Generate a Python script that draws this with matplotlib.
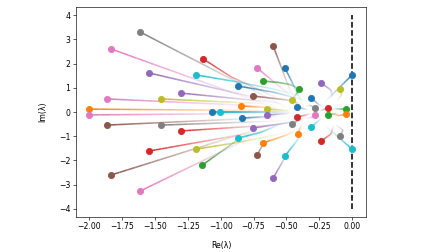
import numpy as np
import matplotlib
matplotlib.use("Agg")
import matplotlib.pyplot as plt
from matplotlib.collections import LineCollection
from matplotlib.colors import to_rgba

# eigenvalue paths: first point = start, last point = end (dot)
upper_paths = [
    [(-0.45, 0.05), (-1.612, 3.30)],
    [(-0.55, 0.10), (-1.833, 2.60)],
    [(-0.50, 0.40), (-0.92, 1.45), (-1.133, 2.19)],
    [(-0.50, 0.30), (-1.544, 1.61)],
    [(-0.35, 0.60), (-0.60, 0.95), (-0.85, 1.22), (-1.186, 1.53)],
    [(-0.33, 0.45), (-0.60, 0.82), (-0.867, 1.07)],
    [(-0.50, 0.35), (-1.30, 0.78)],
    [(-0.50, 0.30), (-1.452, 0.54)],
    [(-0.50, 0.20), (-1.863, 0.54)],
    [(-0.40, 0.05), (-2.00, 0.12)],
    [(-0.42, 0.00), (-1.065, 0.00)],
    [(-0.45, 0.00), (-1.004, 0.00)],
    [(-0.42, 0.50), (-0.47, 0.85), (-0.60, 2.72)],
    [(-0.45, 0.60), (-0.722, 1.81)],
    [(-0.37, 0.30), (-0.40, 0.60), (-0.51, 1.81)],
    [(-0.42, 0.65), (-0.41, 0.98), (-0.47, 1.13), (-0.56, 1.22), (-0.677, 1.28)],
    [(-0.46, 0.50), (-0.43, 0.70), (-0.403, 0.95)],
    [(-0.35, 0.30), (-0.50, 0.50), (-0.753, 0.66)],
    [(-0.38, 0.20), (-0.456, 0.49)],
    [(-0.22, 0.15), (-0.312, 0.58)],
    [(-0.15, 0.55), (-0.16, 0.90), (-0.236, 1.20)],
    [(-0.12, 0.45), (-0.08, 0.70), (-0.091, 0.95)],
    [(-0.22, 0.35), (0.00, 1.53)],
    [(-0.55, 0.15), (-0.844, 0.25)],
    [(-0.45, 0.05), (-0.646, 0.12)],
    [(-0.33, 0.08), (-0.418, 0.21)],
    [(-0.36, 0.22), (-0.32, 0.28), (-0.281, 0.16)],
    [(-0.25, 0.05), (-0.183, 0.16)],
    [(-0.17, 0.12), (-0.046, 0.12)],
]
upper_colors = ['C7', 'C6', 'C3', 'C4', 'C9', 'C0', 'C4', 'C8', 'C6', 'C1',
                'C0', 'C9', 'C5', 'C6', 'C0', 'C2', 'C2', 'C5', 'C8', 'C0',
                'C4', 'C8', 'C0', 'C1', 'C8', 'C0', 'C7', 'C3', 'C2']

lower_paths = [
    [(-0.40, -0.05), (-2.00, -0.12)],
    [(-0.50, -0.20), (-1.863, -0.54)],
    [(-0.45, -0.35), (-1.452, -0.54)],
    [(-0.50, -0.50), (-1.30, -0.78)],
    [(-0.60, -0.70), (-1.544, -1.61)],
    [(-0.45, -0.80), (-0.85, -1.24), (-1.186, -1.53)],
    [(-0.55, -0.60), (-0.85, -1.07), (-1.14, -2.19)],
    [(-0.60, -0.50), (-1.833, -2.60)],
    [(-0.60, -0.60), (-1.612, -3.26)],
    [(-0.40, -0.35), (-0.55, -0.50), (-0.70, -0.85), (-0.867, -1.07)],
    [(-0.55, -0.15), (-0.837, -0.25)],
    [(-0.45, -0.05), (-0.646, -0.12)],
    [(-0.30, -0.05), (-0.418, -0.21)],
    [(-0.36, -0.20), (-0.32, -0.25), (-0.281, -0.12)],
    [(-0.10, -0.05), (-0.183, -0.12)],
    [(-0.20, 0.00), (-0.10, -0.15), (-0.046, -0.08)],
    [(-0.36, -0.20), (-0.456, -0.49)],
    [(-0.35, -0.30), (-0.50, -0.45), (-0.753, -0.66)],
    [(-0.22, -0.20), (-0.312, -0.62)],
    [(-0.38, -0.45), (-0.40, -0.70), (-0.41, -0.91)],
    [(-0.40, -0.70), (-0.50, -0.95), (-0.677, -1.28)],
    [(-0.14, -0.50), (-0.16, -0.90), (-0.236, -1.20)],
    [(-0.13, -0.50), (-0.07, -0.75), (-0.091, -0.99)],
    [(-0.22, -0.50), (0.00, -1.53)],
    [(-0.60, -1.00), (-0.68, -1.35), (-0.722, -1.77)],
    [(-0.35, -0.70), (-0.51, -1.81)],
    [(-0.45, -1.30), (-0.60, -2.72)],
]
lower_colors = ['C6', 'C5', 'C7', 'C3', 'C3', 'C8', 'C2', 'C5', 'C6', 'C9',
                'C0', 'C4', 'C3', 'C6', 'C2', 'C1', 'C7', 'C4', 'C9', 'C1',
                'C1', 'C3', 'C7', 'C9', 'C5', 'C9', 'C4']


def draw_path(ax, pts, color, nsub=20):
    # straight pieces between read points, alpha ramps up toward the dot
    pts = np.asarray(pts, dtype=float)
    seg_len = np.hypot(*np.diff(pts, axis=0).T)
    total = seg_len.sum()
    segs, alphas = [], []
    done = 0.0
    for p0, p1, L in zip(pts[:-1], pts[1:], seg_len):
        for k in range(nsub):
            a = p0 + (p1 - p0) * k / nsub
            b = p0 + (p1 - p0) * (k + 1) / nsub
            segs.append([a, b])
            alphas.append(((done + L * (k + 0.5) / nsub) / total) ** 1.4)
        done += L
    rgba = [to_rgba(color, a) for a in alphas]
    ax.add_collection(LineCollection(segs, colors=rgba, linewidths=2.0, capstyle='butt'))
    ax.plot(pts[-1, 0], pts[-1, 1], 'o', color=color, ms=8, zorder=3)


fig = plt.figure(figsize=(8, 4.5), dpi=56)
ax = fig.add_axes([0.1696, 0.139, 0.6473, 0.833])

for pts, c in zip(upper_paths, upper_colors):
    draw_path(ax, pts, c)
for pts, c in zip(lower_paths, lower_colors):
    draw_path(ax, pts, c)

ax.plot([0, 0], [-4, 4], 'k--', lw=2)

ax.set_xlim(-2.1, 0.105)
ax.set_ylim(-4.33, 4.33)
ax.set_xticks(np.arange(-2.0, 0.01, 0.25))
ax.set_yticks(np.arange(-4, 5, 1))
ax.set_xlabel('Re(λ)')
ax.set_ylabel('Im(λ)')
ax.yaxis.set_label_coords(-0.1, 0.5)
ax.xaxis.set_label_coords(0.5, -0.115)

plt.savefig('out.png', dpi=56)
